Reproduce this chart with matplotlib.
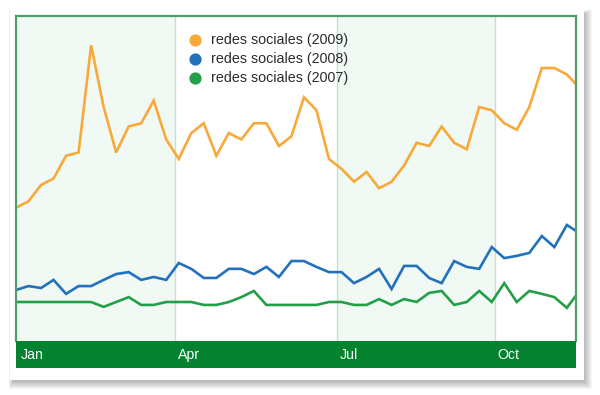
import matplotlib
matplotlib.use("Agg")
import matplotlib.pyplot as plt
from matplotlib.patches import Rectangle

# weekly values, 2009 runs a few weeks into November
weeks = list(range(46))
y2009 = [41, 43, 48, 50, 57, 58, 91, 72, 58, 66, 67, 74, 62, 56, 64, 67, 57, 64, 62, 67,
         67, 60, 63, 75, 71, 56, 53, 49, 52, 47, 49, 54, 61, 60, 66, 61, 59, 72, 71, 67,
         65, 72, 84, 84, 82, 78]
y2008 = [15.7, 16.9, 16.3, 18.8, 14.5, 16.9, 16.9, 18.8, 20.6, 21.2, 18.8, 19.7, 18.8, 24.0,
         22.2, 19.4, 19.4, 22.2, 22.2, 20.6, 22.8, 19.7, 24.6, 24.6, 22.8, 21.2, 21.2, 17.8,
         19.7, 22.2, 16.0, 23.1, 23.1, 19.4, 17.8, 24.6, 22.8, 22.2, 28.9, 25.5, 26.2, 27.1,
         32.3, 28.9, 35.7, 33.2]
y2007 = [12.0, 12.0, 12.0, 12.0, 12.0, 12.0, 12.0, 10.5, 12.0, 13.5, 11.1, 11.1, 12.0, 12.0,
         12.0, 11.1, 11.1, 12.0, 13.5, 15.4, 11.1, 11.1, 11.1, 11.1, 11.1, 12.0, 12.0, 11.1,
         11.1, 12.9, 11.1, 12.9, 12.0, 14.8, 15.4, 11.1, 12.0, 15.4, 12.0, 17.8, 12.0, 15.4,
         14.5, 13.5, 10.2, 15.4]

series_names = ["redes sociales (2009)", "redes sociales (2008)", "redes sociales (2007)"]
series_colors = ["#f8a93a", "#2371bd", "#23a047"]

month_labels = ["Jan", "Apr", "Jul", "Oct"]
month_pos = [0, 12.72, 25.66, 38.28]
x_end = 44.73

W, H = 600, 395
fig = plt.figure(figsize=(W / 100, H / 100), dpi=100)
fig.patch.set_facecolor("white")

def fbox(x0, y0, x1, y1):
    # pixel box (top-left origin) -> figure fraction rect
    return [x0 / W, 1 - y1 / H, (x1 - x0) / W, (y1 - y0) / H]

# soft drop shadow behind the white card
for i in range(8):
    l, b, w, h = fbox(10 - i * 0.6 + 3, 10 - i * 0.6 + 4, 584 + i + 1, 380 + i + 2)
    fig.patches.append(Rectangle((l, b), w, h, transform=fig.transFigure,
                                 facecolor="black", alpha=0.035, edgecolor="none", zorder=0))
l, b, w, h = fbox(10, 10, 584, 380)
fig.patches.append(Rectangle((l, b), w, h, transform=fig.transFigure,
                             facecolor="white", edgecolor="none", zorder=1))

ax = fig.add_axes(fbox(16, 16, 576, 341))
ax.set_zorder(2)
ax.set_xlim(0, x_end)
ax.set_ylim(0, 100)

# alternate quarter shading
ax.axvspan(month_pos[0], month_pos[1], color="#f1f9f4", lw=0)
ax.axvspan(month_pos[2], month_pos[3], color="#f1f9f4", lw=0)
for p in month_pos[1:]:
    ax.axvline(p, color="#c3e2cc", lw=1)

for vals, c in zip([y2007, y2008, y2009], series_colors[::-1]):
    ax.plot(weeks, vals, color=c, lw=1.9, solid_joinstyle="miter")

ax.set_xticks([])
ax.set_yticks([])
for s in ["top", "left", "right"]:
    ax.spines[s].set_color("#4c9f66")
    ax.spines[s].set_linewidth(1.6)
ax.spines["bottom"].set_visible(False)

# legend drawn by hand: dots + labels
for i, (name, c) in enumerate(zip(series_names, series_colors)):
    yy = 1 - (40 + 19 * i - 16) / 325
    ax.plot([(195 - 16) / 560], [yy], "o", color=c, ms=7.8, transform=ax.transAxes, clip_on=False)
    ax.text((211 - 16) / 560, yy, name, transform=ax.transAxes, va="center", ha="left",
            fontsize=10.3, color="#2b2b2b", family="Liberation Sans")

# green month bar
bar = fig.add_axes(fbox(16, 341, 576, 368))
bar.set_zorder(2)
bar.set_facecolor("#058230")
bar.set_xlim(0, x_end)
bar.set_ylim(0, 1)
bar.set_xticks([])
bar.set_yticks([])
for s in bar.spines.values():
    s.set_visible(False)
for lab, p in zip(month_labels, month_pos):
    off = 0.35 if p == 0 else 0.2
    bar.text(p + off, 0.47, lab, color="white", fontsize=10.2, va="center", ha="left",
             family="Liberation Sans")

fig.savefig("out.png", dpi=100, facecolor="white")
